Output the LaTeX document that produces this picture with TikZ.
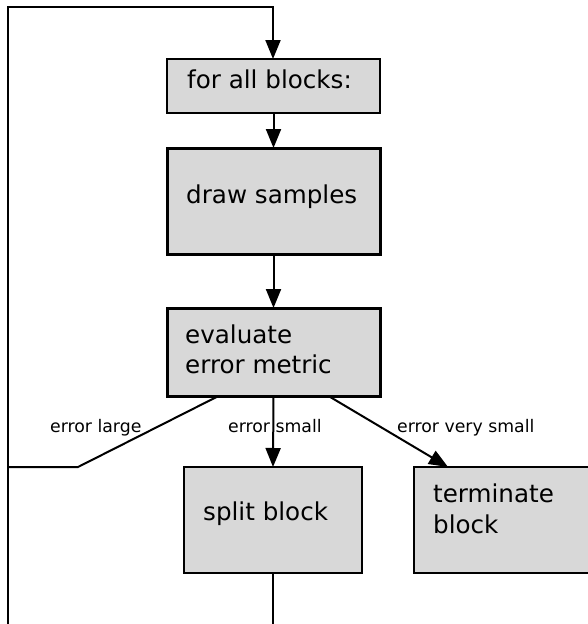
\documentclass[tikz,border=0pt]{standalone}
\usepackage{fontspec}
\setmainfont{DejaVu Sans}
\usetikzlibrary{arrows.meta,calc}
\definecolor{boxgray}{HTML}{D8D8D8}
\begin{document}
\begin{tikzpicture}[x=1pt,y=-1pt,
  boxthin/.style={draw=black, fill=boxgray, line width=2.2pt, inner sep=0pt, outer sep=0pt},
  boxthick/.style={draw=black, fill=boxgray, line width=3pt, inner sep=0pt, outer sep=0pt},
  boxtext/.style={inner sep=0pt, anchor=base west, align=left, font=\fontsize{24.6}{30.5}\selectfont},
  lbl/.style={inner sep=0pt, anchor=base west, font=\fontsize{17.3}{21}\selectfont},
  conn/.style={line width=2pt},
  arr/.style={line width=2pt, -{Triangle[length=19pt,width=15pt]}}]
\useasboundingbox (0,0) rectangle (587,624);
% boxes
\node[boxthin, minimum width=213pt, minimum height=54pt] (forall) at (273.5,86) {};
\node[boxthick, minimum width=213pt, minimum height=106pt] (draw) at (273.5,201) {};
\node[boxthick, minimum width=213pt, minimum height=88pt] (eval) at (273.5,352) {};
\node[boxthin, minimum width=178pt, minimum height=106pt] (split) at (273,520) {};
\node[boxthin, minimum width=200pt, minimum height=106pt] (term) at (514,520) {};
% texts
\node[boxtext] (tforall) at (187,88) {for all blocks:};
\node[boxtext] (tdraw) at (186,203) {draw samples};
\node[boxtext] (teval) at (185,373.5) {evaluate\\error metric};
\node[boxtext] (tsplit) at (203,520) {split block};
\node[boxtext] (tterm) at (433,533) {terminate\\block};
% labels
\node[lbl] (llarge) at (50,432) {error large};
\node[lbl] (lsmall) at (228,432) {error small};
\node[lbl] (lvsmall) at (397,432) {error very small};
% coordinates
\coordinate (loopbl) at (8,624);
\coordinate (looptl) at (8,7);
\coordinate (looptr) at (273,7);
\coordinate (largebend) at (78,467);
\coordinate (largeend) at (8,467);
\coordinate (splitend) at (273,624);
% connectors
\draw[arr] (loopbl) -- (looptl) -- (looptr) -- (looptr |- forall.north);
\draw[arr] (forall.south) -- (draw.north);
\draw[arr] (draw.south) -- (eval.north);
\draw[arr] (eval.south) -- (split.north);
\draw[conn] ($(eval.south)+(-55,0)$) -- (largebend) -- (largeend);
\draw[arr] ($(eval.south)+(55,0)$) -- ($(term.north west)+(34,0)$);
\draw[conn] (split.south) -- (splitend);
\end{tikzpicture}
\end{document}
